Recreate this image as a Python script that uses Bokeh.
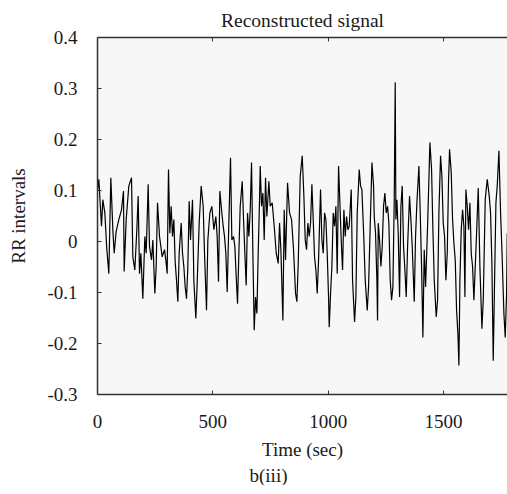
from bokeh.plotting import figure
from bokeh.models import Range1d, LinearAxis, FixedTicker, CustomJSTickFormatter, Title, ColumnDataSource
from bokeh.embed import file_html
from bokeh.resources import INLINE

# Time (sec) and RR interval values (local peaks/troughs)
time_sec = [
    0, 5.8, 11.6, 17.3, 23.1, 31.8, 40.5, 49.1, 57.8, 66.5, 72.3, 80.9, 92.5, 104, 112.7, 115.6,
    124.3, 135.8, 147.4, 153.2, 161.8, 170.5, 176.3, 182.1, 187.9, 196.5, 205.2, 211, 219.6, 225.4,
    234.1, 239.9, 248.6, 254.3, 260.1, 268.8, 280.4, 290.4, 296.2, 302, 307.7, 313.5, 319.3, 325.1,
    330.9, 336.6, 342.4, 348.2, 354, 362.7, 368.4, 374.2, 380, 385.8, 391.6, 397.3, 403.1, 411.8,
    417.6, 426.2, 432, 440.7, 449.4, 458, 463.8, 472.5, 478.3, 486.9, 495.6, 504.3, 512.9, 518.7,
    524.5, 530.3, 538.9, 544.7, 550.5, 556.3, 562.1, 567.8, 576.5, 582.3, 589.6, 595.4, 601.2,
    606.9, 612.7, 618.5, 627.2, 633, 638.7, 644.5, 650.3, 656.1, 661.9, 667.6, 673.4, 679.2, 685,
    690.8, 696.5, 702.3, 705.2, 711, 716.8, 722.5, 728.3, 734.1, 742.8, 748.6, 757.2, 765.9, 774.6,
    783.2, 789, 794.8, 803.5, 809.2, 815, 823.7, 832.4, 841, 849.7, 858.4, 864.2, 870, 878.6, 887.3,
    894.5, 900.3, 906, 911.8, 917.6, 923.4, 929.2, 934.9, 940.7, 946.5, 952.3, 958.1, 966.7, 972.5,
    978.3, 984.1, 989.9, 995.6, 1001.4, 1004.3, 1010.1, 1015.9, 1021.6, 1027.4, 1033.2, 1039,
    1044.8, 1050.5, 1056.3, 1062.1, 1067.9, 1073.7, 1079.4, 1085.2, 1091, 1099.7, 1105.5, 1114.1,
    1119.9, 1125.7, 1134.4, 1140.1, 1145.9, 1154.6, 1160.4, 1169, 1174.8, 1183.5, 1189.5, 1196.5,
    1199.4, 1205.1, 1210.9, 1213.8, 1216.7, 1222.5, 1228.3, 1234, 1239.8, 1245.6, 1251.4, 1257.2,
    1262.9, 1268.7, 1274.5, 1280.3, 1286.1, 1290.4, 1293.3, 1297.6, 1303.4, 1309.2, 1315, 1320.7,
    1326.5, 1332.3, 1338.1, 1343.9, 1352.5, 1358.3, 1364.1, 1372.8, 1378.5, 1384.3, 1393, 1398.8,
    1404.6, 1410.3, 1416.1, 1421.9, 1430.6, 1436.3, 1440.7, 1447.9, 1453.7, 1459.5, 1468.1, 1473.9,
    1479.7, 1486.9, 1492.7, 1498.5, 1504.2, 1510, 1515.8, 1521.6, 1525.9, 1533.1, 1538.9, 1544.7,
    1550.5, 1556.3, 1562, 1566.4, 1570.7, 1576.5, 1582.3, 1588, 1592.4, 1596.7, 1602.5, 1608.3,
    1614.1, 1619.8, 1625.6, 1631.4, 1637.2, 1643, 1650.2, 1657.4, 1666.1, 1671.9, 1680.5, 1689.2,
    1697.9, 1703.6, 1709.4, 1715.2, 1721, 1726.8, 1732.5, 1739.8, 1747, 1752.8, 1761.4, 1767.2,
    1773, 1775.9, 1785,
]
rr_values = [
    0.100, 0.122, 0.076, 0.030, 0.082, 0.056, -0.016, -0.063, 0.125, 0.023, -0.023, 0.020, 0.043, 0.062, 0.099, -0.059,
    0.043, 0.109, 0.125, -0.030, -0.056, 0.023, 0.089, -0.063, -0.023, -0.112, 0.010, -0.023, 0.112, -0.010,
    -0.036, 0.003, -0.102, -0.049, 0.076, 0.010, -0.030, -0.016, -0.036, -0.063, 0.141, 0.016, 0.069, 0.010,
    0.043, -0.039, -0.076, -0.118, -0.023, 0.036, -0.023, -0.049, -0.089, -0.112, -0.049, 0.079, 0.003, 0.082,
    -0.076, -0.151, -0.082, 0.036, 0.109, 0.069, -0.023, -0.135, 0.003, 0.056, 0.069, 0.023, 0.049, 0.010,
    -0.079, 0.099, 0.056, 0.030, 0.010, -0.023, -0.099, 0.010, 0.164, 0.003, 0.010, -0.010, -0.069,
    -0.122, -0.023, 0.069, 0.118, 0.043, -0.023, -0.086, 0.056, 0.010, 0.062, 0.155, -0.023, -0.174, -0.109,
    -0.141, -0.023, 0.082, 0.148, 0.069, 0.095, 0.003, 0.125, 0.049, 0.118, 0.069, 0.076, 0.030, -0.023,
    -0.043, 0.036, -0.016, -0.155, 0.062, -0.036, 0.115, 0.056, 0.043, -0.016, -0.102, -0.118, -0.043, 0.128, 0.168,
    0.089, 0.003, -0.016, 0.036, 0.010, 0.036, 0.112, 0.043, -0.030, -0.056, -0.102, -0.036, 0.102, 0.003,
    -0.023, 0.056, 0.043, -0.023, -0.109, -0.168, -0.102, -0.049, 0.056, 0.030, 0.069, -0.063,
    0.148, 0.076, 0.003, -0.056, 0.062, 0.010, 0.049, 0.023, 0.030, 0.102, -0.076, -0.158,
    -0.109, 0.056, 0.141, 0.109, 0.102, 0.003, -0.076, -0.135, -0.089, 0.056, 0.155, 0.109,
    0.049, 0.016, -0.076, -0.155, 0.036, 0.003, -0.049, -0.010, 0.069, 0.095, 0.056, 0.069,
    0.036, -0.076, -0.115, -0.089, 0.082, 0.312, 0.043, 0.082, 0.016, -0.109, 0.069, 0.109,
    -0.010, -0.056, -0.109, -0.010, 0.089, 0.043, -0.010, -0.118, 0.010, 0.076, 0.148, 0.056,
    -0.049, -0.188, -0.016, -0.089, 0.030, 0.122, 0.194, 0.141, 0.023, -0.076, -0.148, -0.115,
    0.056, 0.168, 0.128, 0.036, 0.010, -0.076, -0.023, 0.122, 0.181, 0.135, 0.043, -0.003,
    -0.036, -0.135, -0.181, -0.243, -0.076, 0.023, 0.062, 0.030, -0.109, 0.102, 0.069, 0.023,
    0.076, -0.023, -0.049, -0.115, -0.049, 0.016, 0.105, -0.049, -0.171, -0.115, 0.082, 0.122,
    0.089, 0.056, -0.043, -0.234, -0.076, 0.076, 0.109, 0.178, 0.056, -0.016, -0.141, -0.188,
    -0.102, 0.016, -0.050,
]

x_ticks = [0, 500, 1000, 1500]
y_ticks = [-0.3, -0.2, -0.1, 0.0, 0.1, 0.2, 0.3, 0.4]

FONT = "Liberation Serif"
TXT = "#1a1a1a"
AX = "#333333"

p = figure(frame_width=410, frame_height=357, output_backend="svg", toolbar_location=None,
           x_range=Range1d(0, 1777), y_range=Range1d(-0.3, 0.4),
           min_border_left=97, min_border_right=0, min_border_top=35, min_border_bottom=80,
           x_axis_location=None, y_axis_location=None)

p.title.text = "Reconstructed signal"
p.title.align = "center"
p.title.text_font = FONT
p.title.text_font_size = "19.5px"
p.title.text_font_style = "normal"
p.title.text_color = TXT
p.title.standoff = 14

p.background_fill_color = "#f7f7f7"
p.border_fill_color = "white"
p.outline_line_color = None
p.xgrid.visible = False
p.ygrid.visible = False

src = ColumnDataSource(dict(t=time_sec, v=rr_values))
p.line("t", "v", source=src, line_color="black", line_width=1.2)

fmt = CustomJSTickFormatter(code="const v = Math.round(tick*10)/10; return v === 0 ? '0' : v.toFixed(1);")
blank = CustomJSTickFormatter(code="return '';")

yax = LinearAxis(ticker=FixedTicker(ticks=y_ticks), formatter=fmt, axis_label="RR intervals")
xax = LinearAxis(ticker=FixedTicker(ticks=x_ticks), axis_label="Time (sec)")
tax = LinearAxis(ticker=FixedTicker(ticks=x_ticks), formatter=blank)

for ax in (yax, xax, tax):
    ax.axis_line_color = AX
    ax.axis_line_width = 1.5
    ax.major_tick_line_color = AX
    ax.major_tick_in = 4
    ax.major_tick_out = 0
    ax.minor_tick_line_color = None
    ax.major_label_text_font = FONT
    ax.major_label_text_font_size = "19px"
    ax.major_label_text_color = TXT
    ax.axis_label_text_font = FONT
    ax.axis_label_text_font_size = "19px"
    ax.axis_label_text_font_style = "normal"
    ax.axis_label_text_color = TXT

yax.major_label_standoff = 20
yax.axis_label_standoff = 15
xax.major_label_standoff = 20
xax.axis_label_standoff = 8
tax.major_label_standoff = 0

p.add_layout(yax, "left")
p.add_layout(xax, "below")
p.add_layout(tax, "above")

cap = Title(text="b(iii)", align="left", offset=152, standoff=0, text_font=FONT, text_font_size="19px",
            text_font_style="normal", text_color=TXT)
p.add_layout(cap, "below")

open("out.html", "w").write(file_html(p, INLINE))
